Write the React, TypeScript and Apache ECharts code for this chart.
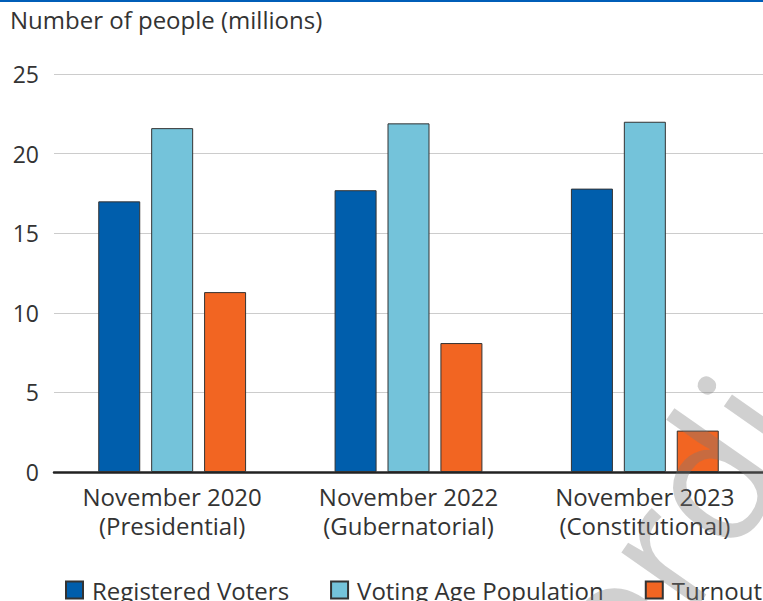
import React, { useEffect, useRef } from "react";
import * as echarts from "echarts";

const categories = ["November 2020\n(Presidential)", "November 2022\n(Gubernatorial)", "November 2023\n(Constitutional)"];
const registeredVoters = [17.0, 17.7, 17.8];
const votingAgePopulation = [21.6, 21.9, 22.0];
const turnout = [11.3, 8.1, 2.6];
const seriesNames = ["Registered Voters", "Voting Age Population", "Turnout"];
const colors = ["#005eac", "#74c3da", "#f26522"];

export default function App() {
  const ref = useRef<HTMLDivElement>(null);
  useEffect(() => {
    document.body.style.margin = "0";
    const chart = echarts.init(ref.current!, null, { renderer: "svg" });
    const font = "'Open Sans', 'Noto Sans', sans-serif";
    const mk = (name: string, data: number[], color: string) => ({
      name,
      type: "bar",
      data,
      barWidth: 42,
      barGap: "26%",
      itemStyle: { color, borderColor: "#333333", borderWidth: 1 },
    });
    chart.setOption({
      animation: false,
      textStyle: { fontFamily: font },
      grid: { left: 54, top: 74, width: 711, height: 398, containLabel: false },
      xAxis: {
        type: "category",
        data: categories,
        axisLine: { lineStyle: { color: "#222222", width: 2.5 } },
        axisTick: { show: false },
        axisLabel: { fontSize: 24, lineHeight: 29, color: "#333333", margin: 10, fontFamily: font },
      },
      yAxis: {
        type: "value",
        min: 0,
        max: 25,
        interval: 5,
        axisLine: { show: false },
        axisTick: { show: false },
        splitLine: { lineStyle: { color: "#cccccc", width: 1.2 } },
        axisLabel: { fontSize: 23, color: "#333333", margin: 15, fontFamily: font },
      },
      legend: {
        left: 60,
        top: 573,
        width: 1200,
        icon: "rect",
        itemWidth: 17,
        itemHeight: 17,
        itemGap: 41,
        textStyle: { fontSize: 24, color: "#333333", fontFamily: font, padding: [0, 0, 0, 4] },
        data: seriesNames,
      },
      series: [
        mk(seriesNames[0], registeredVoters, colors[0]),
        mk(seriesNames[1], votingAgePopulation, colors[1]),
        mk(seriesNames[2], turnout, colors[2]),
      ],
      graphic: [
        { type: "rect", left: 0, top: 0, shape: { width: 763, height: 2 }, style: { fill: "#005eb8" } },
        {
          type: "text",
          left: 10,
          top: 7,
          style: { text: "Number of people (millions)", fontSize: 24, fill: "#333333", fontFamily: font },
        },
        {
          type: "text",
          x: 645,
          y: 716,
          rotation: (55 * Math.PI) / 180,
          z: 100,
          style: {
            text: "ordi",
            fontSize: 175,
            fill: "rgba(120,120,120,0.35)",
            fontFamily: font,
            verticalAlign: "bottom",
          },
        },
      ],
    });
    return () => chart.dispose();
  }, []);
  return <div ref={ref} style={{ width: 763, height: 601 }} />;
}
